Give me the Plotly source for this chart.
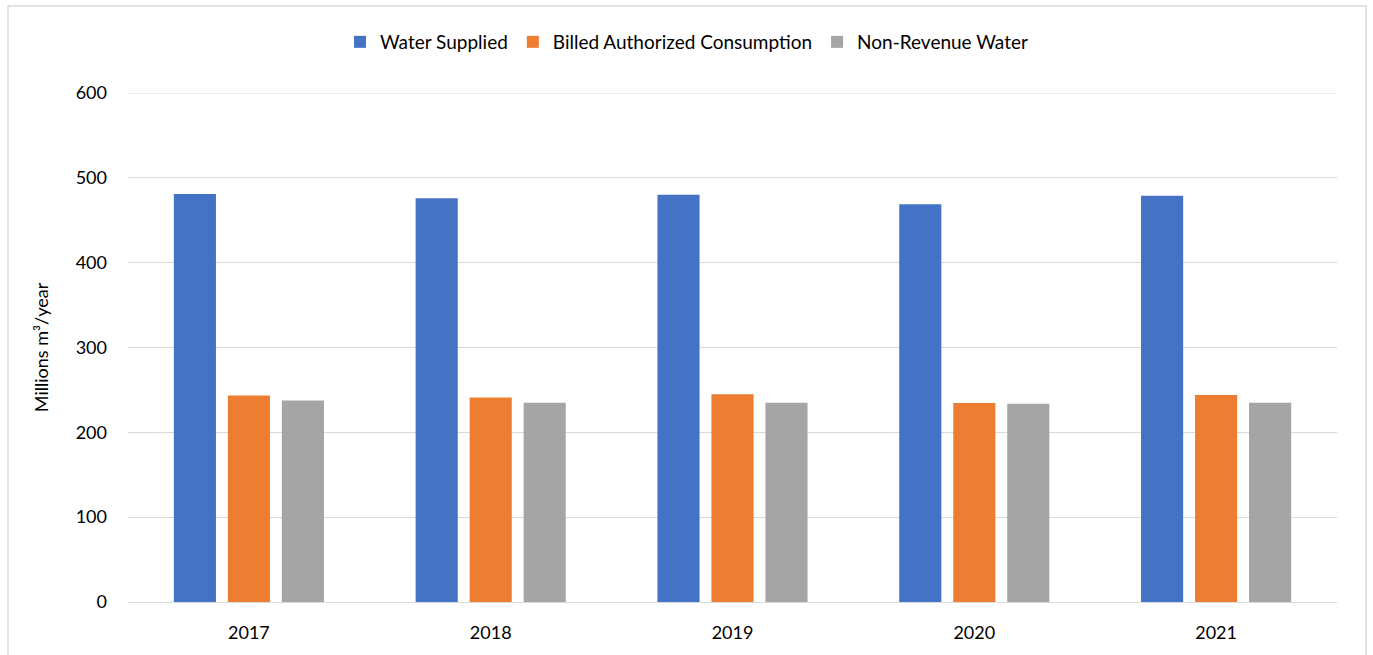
import plotly.graph_objects as go

years = ["2017", "2018", "2019", "2020", "2021"]
water_supplied = [481, 476, 480, 469, 479]
billed_authorized = [243.5, 241, 245, 234.5, 244]
non_revenue = [237.5, 234.8, 235, 233.6, 234.8]

series_names = ["Water Supplied", "Billed Authorized Consumption", "Non-Revenue Water"]
series_colors = ["#4472C4", "#ED7D31", "#A5A5A5"]
series_values = [water_supplied, billed_authorized, non_revenue]

FONT = "Lato, 'Open Sans', sans-serif"
Y_MAX = 600

fig = go.Figure()
for name, color, vals in zip(series_names, series_colors, series_values):
    fig.add_trace(go.Bar(x=years, y=vals, name=name, marker_color=color,
                         marker_line_width=0))

fig.update_layout(
    width=1373, height=655,
    margin=dict(l=128, r=36, t=93, b=53, autoexpand=False),
    paper_bgcolor="white", plot_bgcolor="white",
    barmode="group", bargap=0.33, bargroupgap=0.22,
    font=dict(family=FONT, size=18, color="#000000"),
    legend=dict(orientation="h", xref="container", yref="container",
                x=0.5, xanchor="center", y=1 - 42/655, yanchor="middle",
                font=dict(size=19), itemwidth=30, traceorder="normal"),
    showlegend=True,
)

fig.update_yaxes(range=[0, Y_MAX], dtick=100, showgrid=True, gridcolor="#D9D9D9",
                 gridwidth=1, zeroline=False, showline=False,
                 ticklabelstandoff=20, automargin=False,
                 title=dict(text="Millions m³/year", standoff=22,
                            font=dict(size=18)))
fig.update_xaxes(showline=True, linecolor="#D9D9D9", linewidth=1, showgrid=False,
                 ticklabelstandoff=14, automargin=False)

# top gridline at the range edge
fig.add_shape(type="line", xref="paper", yref="y", x0=0, x1=1, y0=Y_MAX, y1=Y_MAX,
              line=dict(color="#D9D9D9", width=1), layer="below")

# outer chart border
fig.add_shape(type="rect", xref="paper", yref="paper",
              x0=(8 - 128) / 1209, x1=(1366 - 128) / 1209,
              y0=(602 - 665) / 509, y1=(602 - 6) / 509,
              line=dict(color="#D9D9D9", width=1.5), fillcolor="rgba(0,0,0,0)",
              layer="below")

fig.write_html("out.html", config={"displayModeBar": False},
               post_script="document.body.style.margin='0';document.body.style.overflow='hidden';")
